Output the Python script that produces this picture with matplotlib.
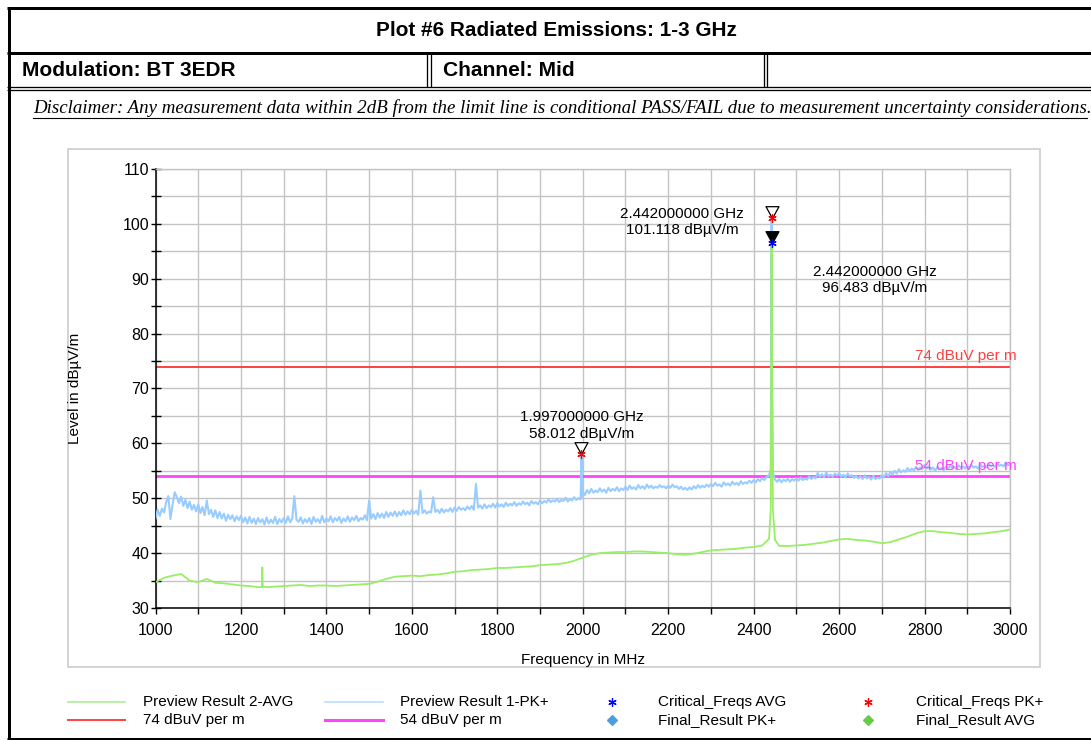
import numpy as np
import matplotlib
matplotlib.use("Agg")
import matplotlib.pyplot as plt
from matplotlib.lines import Line2D
from matplotlib.patches import Rectangle
from matplotlib.path import Path
from matplotlib.ticker import MultipleLocator

plt.rcParams['font.family'] = ['Liberation Sans', 'DejaVu Sans']

# ---- data ----
# Preview Result 1-PK+ (5 MHz steps, 1000..3000 MHz)
pk_start, pk_step = 1000, 5
pk_values = [
    46.3, 47.9, 46.8, 48.1, 47.4, 49.3, 50.4, 46.2, 48.9, 51.1, 50.2, 49.1, 50.3, 48.6, 49.7, 48.2, 49.4, 47.9, 48.8, 47.6,
    48.9, 47.3, 48.4, 46.9, 49.6, 47.1, 47.9, 46.6, 47.8, 46.4, 47.5, 46.3, 47.2, 45.9, 47.0, 46.2, 46.9, 45.8, 46.7, 46.0,
    46.8, 45.6, 46.5, 45.4, 46.6, 45.5, 46.3, 45.3, 46.4, 45.6, 46.2, 45.2, 46.5, 45.4, 46.1, 45.5, 46.6, 45.3, 46.2, 45.6,
    46.4, 45.5, 46.7, 45.6, 46.3, 50.4, 46.1, 45.7, 46.5, 45.4, 46.2, 45.6, 46.4, 45.3, 46.6, 45.7, 46.2, 45.5, 46.8, 45.6,
    46.3, 45.8, 46.7, 45.6, 46.4, 45.9, 46.6, 45.5, 46.3, 45.8, 46.7, 45.7, 46.5, 46.0, 46.8, 45.8, 46.4, 46.1, 46.9, 46.0,
    49.6, 46.3, 47.1, 46.2, 47.3, 46.5, 47.2, 46.4, 47.5, 46.6, 47.4, 46.8, 47.6, 46.7, 47.5, 46.9, 47.8, 47.0, 47.6, 47.1,
    47.9, 47.2, 47.7, 47.0, 51.4, 47.3, 47.8, 47.2, 47.6, 47.4, 50.2, 47.5, 47.9, 47.3, 48.1, 47.4, 47.9, 47.6, 48.2, 47.5,
    48.3, 47.7, 48.4, 47.9, 48.2, 47.8, 48.5, 48.0, 48.6, 47.9, 52.6, 48.3, 48.7, 48.1, 48.9, 48.2, 48.7, 48.4, 49.0, 48.3,
    49.1, 48.5, 48.9, 48.4, 49.2, 48.6, 49.0, 48.7, 49.3, 48.6, 49.1, 48.8, 49.4, 48.9, 49.2, 48.7, 49.5, 49.0, 49.3, 48.9,
    49.6, 49.1, 49.5, 49.2, 49.8, 49.3, 49.6, 49.4, 49.9, 49.3, 49.7, 49.5, 50.1, 49.4, 49.8, 49.6, 50.2, 49.7, 50.0, 49.8,
    51.2, 50.6, 51.5, 50.9, 51.7, 51.0, 51.4, 51.1, 51.8, 51.2, 51.6, 51.0, 51.9, 51.3, 51.7, 51.4, 52.0, 51.3, 51.8, 51.5,
    52.1, 51.5, 52.3, 51.7, 52.0, 51.6, 52.4, 51.8, 52.2, 51.7, 52.5, 51.9, 52.3, 51.8, 52.1, 51.9, 52.4, 52.0, 52.2, 51.8,
    52.3, 51.9, 52.5, 52.0, 52.2, 51.7, 52.1, 51.6, 51.9, 51.5, 52.0, 51.6, 52.2, 51.8, 52.4, 51.9, 52.3, 52.0, 52.5, 52.1,
    52.6, 52.2, 52.8, 52.3, 52.5, 52.1, 52.9, 52.4, 52.7, 52.3, 53.0, 52.5, 52.8, 52.4, 53.1, 52.6, 52.9, 52.7, 53.2, 52.8,
    53.3, 52.9, 53.5, 53.1, 53.7, 53.3, 53.9, 54.0, 55.2, 54.6, 53.4, 53.0, 53.5, 52.9, 53.4, 53.1, 53.6, 53.0, 53.5, 53.2,
    53.7, 53.2, 53.8, 53.3, 53.6, 53.4, 54.0, 53.5, 53.9, 53.6, 54.6, 53.9, 54.4, 53.8, 54.7, 54.0, 54.3, 53.9, 54.5, 54.1,
    54.6, 53.9, 54.3, 53.8, 54.5, 54.0, 54.2, 53.7, 54.1, 53.6, 54.0, 53.5, 54.2, 53.6, 53.9, 53.4, 54.1, 53.5, 53.8, 53.6,
    54.2, 53.8, 54.6, 54.0, 54.8, 54.3, 55.0, 54.5, 55.3, 54.7, 55.1, 54.8, 55.5, 55.0, 55.4, 55.1, 55.7, 55.2, 55.6, 55.3,
    56.1, 55.4, 55.8, 55.2, 55.6, 55.0, 55.7, 55.3, 55.5, 55.1, 55.8, 55.4, 55.9, 55.5, 55.7, 55.3, 56.0, 55.6, 55.8, 55.4,
    55.9, 55.5, 56.1, 55.6, 55.8, 55.4, 56.2, 55.7, 55.9, 55.6, 56.3, 55.8, 56.0, 55.7, 56.4, 55.9, 56.1, 55.8, 56.5, 56.0,
    56.2,
]
# narrow peaks of the PK+ trace (MHz, dBuV/m)
pk_spike_freqs = [1996.5, 1997.0, 1998.0, 1999.0, 2441.5, 2442.0, 2442.5]
pk_spike_values = [56.0, 58.0, 55.0, 50.2, 80.0, 101.1, 80.0]

# Preview Result 2-AVG (20 MHz steps, 1000..3000 MHz)
avg_start, avg_step = 1000, 20
avg_values = [
    34.7, 35.5, 35.9, 36.2, 35.0, 34.7, 35.3, 34.6, 34.5, 34.3,
    34.1, 34.0, 33.8, 33.8, 33.9, 34.0, 34.1, 34.2, 34.0, 34.1,
    34.1, 34.0, 34.1, 34.2, 34.3, 34.4, 34.8, 35.3, 35.7, 35.8,
    35.9, 35.8, 36.0, 36.1, 36.3, 36.6, 36.7, 36.9, 37.0, 37.1,
    37.3, 37.3, 37.4, 37.5, 37.6, 37.8, 37.9, 38.0, 38.2, 38.6,
    39.2, 39.7, 40.0, 40.1, 40.2, 40.2, 40.3, 40.3, 40.2, 40.1,
    40.0, 39.8, 39.7, 39.9, 40.2, 40.5, 40.6, 40.7, 40.8, 41.0,
    41.1, 41.4, 48.0, 41.3, 41.3, 41.4, 41.5, 41.7, 41.9, 42.2,
    42.5, 42.6, 42.4, 42.3, 42.1, 41.8, 42.0, 42.5, 43.0, 43.6,
    44.0, 44.0, 43.8, 43.7, 43.5, 43.4, 43.5, 43.6, 43.8, 44.0,
    44.3,
]
avg_spike_freqs = [1249, 1250, 1251, 2436, 2441.2, 2442, 2442.8, 2445, 2450]
avg_spike_values = [33.8, 37.4, 33.9, 42.6, 75.0, 96.5, 75.0, 48.0, 42.4]

# limit lines
limit_names = ['74 dBuV per m', '54 dBuV per m']
limit_values = [74, 54]
limit_colors = ['#ff4040', '#ff44ff']

# critical frequencies
crit_pk_freqs = [1997.0, 2442.0]
crit_pk_levels = [58.012, 101.118]
crit_avg_freqs = [2442.0]
crit_avg_levels = [96.483]

W, H = 1091, 740


def fx(x):
    return x / W


def fy(y):
    return 1 - y / H


def merged(start, step, values, sfreqs, svalues):
    f = start + step * np.arange(len(values))
    f = np.concatenate([f, sfreqs])
    v = np.concatenate([values, svalues])
    order = np.argsort(f, kind='stable')
    return f[order], v[order]


fig = plt.figure(figsize=(W / 100, H / 100), dpi=100)

# ---- report frame ----
def hline(x0, x1, y, lw_px):
    fig.add_artist(Line2D([fx(x0), fx(x1)], [fy(y), fy(y)], lw=lw_px * 0.72,
                          color='black', solid_capstyle='butt'))


def vline(x, y0, y1, lw_px):
    fig.add_artist(Line2D([fx(x), fx(x)], [fy(y0), fy(y1)], lw=lw_px * 0.72,
                          color='black', solid_capstyle='butt'))


hline(7, W, 8, 3)
hline(7, W, 52.5, 3)
hline(7, W, 86.5, 1.3)
hline(7, W, 89.5, 1.3)
hline(7, W, 738.5, 3)
vline(8.5, 7, 740, 3)
for sx in [427, 430.5, 763.5, 766.8]:
    vline(sx, 53, 87, 1.3)

bold_narrow = ['Liberation Sans Narrow', 'Liberation Sans', 'DejaVu Sans']
t_title = fig.text(fx(556), fy(31), 'Plot #6 Radiated Emissions: 1-3 GHz', ha='center', va='center',
                   fontsize=15, fontweight='bold', family=bold_narrow)
t_mod = fig.text(fx(22), fy(71), 'Modulation: BT 3EDR', ha='left', va='center',
                 fontsize=15, fontweight='bold', family=bold_narrow)
t_ch = fig.text(fx(443), fy(71), 'Channel: Mid', ha='left', va='center',
                fontsize=15, fontweight='bold', family=bold_narrow)
t_disc = fig.text(fx(33), fy(108),
                  'Disclaimer: Any measurement data within 2dB from the limit line is conditional '
                  'PASS/FAIL due to measurement uncertainty considerations.',
                  ha='left', va='center', fontsize=12, style='italic',
                  family=['Liberation Serif', 'DejaVu Serif'])
fig.add_artist(Line2D([fx(33), fx(1087)], [fy(117.5), fy(117.5)], lw=0.8, color='black'))

# fit header texts to the widths seen in the report
fig.canvas.draw()
r = fig.canvas.get_renderer()
for t, target in [(t_title, 362), (t_mod, 214), (t_ch, 132), (t_disc, 1053)]:
    w = t.get_window_extent(r).width
    t.set_fontsize(t.get_fontsize() * target / w)

# chart panel
fig.add_artist(Rectangle((fx(68), fy(667)), fx(1040) - fx(68), (667 - 149) / H,
                         fill=False, edgecolor='#cccccc', lw=1.2))

ax = fig.add_axes([fx(155.5), fy(608), fx(1010) - fx(155.5), (608 - 169) / H])
ax.set_xlim(1000, 3000)
ax.set_ylim(30, 110)

fa, va = merged(avg_start, avg_step, avg_values, avg_spike_freqs, avg_spike_values)
fp, vp = merged(pk_start, pk_step, pk_values, pk_spike_freqs, pk_spike_values)
ax.plot(fp, vp, color='#99ccff', lw=1.5, zorder=3)
ax.plot(fa, va, color='#99ee66', lw=1.3, zorder=3.5)

for name, val, col in zip(limit_names, limit_values, limit_colors):
    ax.axhline(val, color=col, lw=1.4 if val == 74 else 2.0, zorder=2.5)
    ax.annotate(name, xy=(1, val), xycoords=ax.get_yaxis_transform(),
                xytext=(5, 2.5), textcoords='offset points', ha='right', va='bottom',
                color=col, fontsize=11, annotation_clip=False)

# markers: triangle with the tip on the point
tri_down = Path([(-0.55, 1.0), (0.55, 1.0), (0.0, 0.0), (-0.55, 1.0)],
                [Path.MOVETO, Path.LINETO, Path.LINETO, Path.CLOSEPOLY])
ax.plot(crit_pk_freqs, crit_pk_levels, ls='none', marker=tri_down, ms=17,
        mfc='white', mec='black', mew=0.9, zorder=5, clip_on=False)
ax.plot(crit_avg_freqs, crit_avg_levels, ls='none', marker=tri_down, ms=17,
        mfc='black', mec='black', mew=0.9, zorder=5)
ax.plot(crit_pk_freqs, crit_pk_levels, ls='none', marker=(6, 2, 0), ms=6,
        color='red', mew=0.9, zorder=6)
ax.plot(crit_avg_freqs, crit_avg_levels, ls='none', marker=(6, 2, 0), ms=6,
        color='blue', mew=0.9, zorder=6)

lbl_offsets = [(0, 9.5, 'center', 'bottom'), (-64.5, -3, 'center', 'center')]
for f, lv, (dx, dy, ha, vaa) in zip(crit_pk_freqs, crit_pk_levels, lbl_offsets):
    ax.annotate(f'{f / 1000:.9f} GHz\n{lv:.3f} dBµV/m', xy=(f, lv), xytext=(dx, dy),
                textcoords='offset points', ha=ha, va=vaa, fontsize=11,
                multialignment='center', linespacing=1.25, zorder=7)
for f, lv in zip(crit_avg_freqs, crit_avg_levels):
    ax.annotate(f'{f / 1000:.9f} GHz\n{lv:.3f} dBµV/m', xy=(f, lv), xytext=(74.5, -26.5),
                textcoords='offset points', ha='center', va='center', fontsize=11,
                multialignment='center', linespacing=1.25, zorder=7)

# axes styling
ax.xaxis.set_major_locator(MultipleLocator(200))
ax.xaxis.set_minor_locator(MultipleLocator(100))
ax.yaxis.set_major_locator(MultipleLocator(10))
ax.yaxis.set_minor_locator(MultipleLocator(5))
ax.grid(True, which='both', color='#c4c4c4', lw=1.0, zorder=1)
ax.set_axisbelow(True)
for s in ['top', 'right']:
    ax.spines[s].set_color('#c4c4c4')
    ax.spines[s].set_linewidth(1.0)
for s in ['left', 'bottom']:
    ax.spines[s].set_color('black')
    ax.spines[s].set_linewidth(1.1)
ax.tick_params(axis='y', which='both', direction='inout', length=7, width=1, labelsize=11.5, pad=1)
ax.tick_params(axis='x', which='both', direction='out', length=4, width=1, labelsize=11.5, pad=7)

fig.text(fx(75), fy(388), 'Level in dBµV/m', rotation=90, ha='center', va='center', fontsize=11)
fig.text(fx(583), fy(660), 'Frequency in MHz', ha='center', va='center', fontsize=11)

# ---- legend (drawn by hand, 4 columns x 2 rows) ----
rows_y = [702, 720]
line_entries = [
    (68, 125, 143, rows_y[0], '#aaf09a', 1.2, 'Preview Result 2-AVG'),
    (68, 125, 143, rows_y[1], '#ff4040', 1.4, '74 dBuV per m'),
    (325, 383, 400, rows_y[0], '#bbddff', 1.2, 'Preview Result 1-PK+'),
    (325, 383, 400, rows_y[1], '#ff44ff', 2.2, '54 dBuV per m'),
]
for x0, x1, xt, y, col, lw, txt in line_entries:
    fig.add_artist(Line2D([fx(x0), fx(x1)], [fy(y), fy(y)], color=col, lw=lw))
    fig.text(fx(xt), fy(y), txt, ha='left', va='center', fontsize=11)
marker_entries = [
    (612, 658, rows_y[0], (6, 2, 0), 'blue', 6, 'Critical_Freqs AVG'),
    (612, 658, rows_y[1], 'D', '#4a9ee0', 5, 'Final_Result PK+'),
    (868, 916, rows_y[0], (6, 2, 0), 'red', 6, 'Critical_Freqs PK+'),
    (868, 916, rows_y[1], 'D', '#66cc44', 5, 'Final_Result AVG'),
]
for xm, xt, y, mk, col, ms, txt in marker_entries:
    fig.add_artist(Line2D([fx(xm)], [fy(y)], ls='none', marker=mk, color=col, ms=ms, mew=0.9))
    fig.text(fx(xt), fy(y), txt, ha='left', va='center', fontsize=11)

fig.savefig('out.png', dpi=100)
